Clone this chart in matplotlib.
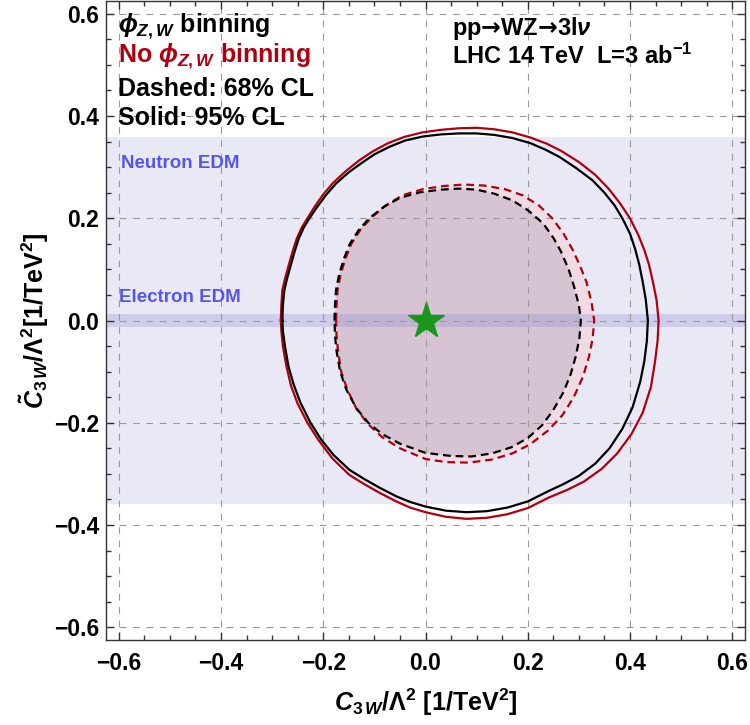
import numpy as np
import matplotlib.pyplot as plt
from matplotlib.ticker import MultipleLocator

plt.rcParams['font.family'] = ['Liberation Sans', 'DejaVu Sans']
plt.rcParams['font.weight'] = 'bold'
plt.rcParams['axes.labelweight'] = 'bold'
plt.rcParams['mathtext.fontset'] = 'custom'
plt.rcParams['mathtext.rm'] = 'Liberation Sans:bold'
plt.rcParams['mathtext.bf'] = 'Liberation Sans:bold'
plt.rcParams['mathtext.it'] = 'Liberation Sans:italic:bold'
plt.rcParams['mathtext.sf'] = 'DejaVu Sans:bold'

# 95% CL contours (solid)
solid_bin_x = [-0.280, -0.279, -0.276, -0.270, -0.263, -0.256, -0.248, -0.238, -0.227, -0.212,
               -0.195, -0.175, -0.150, -0.125, -0.100, -0.070, -0.040, -0.005, 0.030, 0.065,
               0.100, 0.135, 0.170, 0.205, 0.235, 0.262, 0.295, 0.327, 0.350, 0.370,
               0.385, 0.400, 0.410, 0.418, 0.425, 0.431, 0.435, 0.433, 0.428, 0.420,
               0.405, 0.385, 0.360, 0.332, 0.300, 0.270, 0.242, 0.200, 0.160, 0.120,
               0.080, 0.040, 0.000, -0.030, -0.057, -0.090, -0.120, -0.149, -0.180, -0.204,
               -0.225, -0.245, -0.258, -0.268, -0.275, -0.279]
solid_bin_y = [0.000, 0.030, 0.060, 0.085, 0.110, 0.135, 0.160, 0.182, 0.200, 0.222,
               0.245, 0.268, 0.290, 0.308, 0.325, 0.340, 0.352, 0.360, 0.364, 0.366,
               0.366, 0.363, 0.357, 0.347, 0.334, 0.320, 0.298, 0.274, 0.250, 0.225,
               0.200, 0.170, 0.140, 0.110, 0.075, 0.040, 0.000, -0.040, -0.080, -0.120,
               -0.170, -0.212, -0.250, -0.280, -0.304, -0.320, -0.333, -0.354, -0.366, -0.373,
               -0.375, -0.372, -0.364, -0.355, -0.344, -0.327, -0.310, -0.292, -0.263, -0.233,
               -0.200, -0.160, -0.125, -0.090, -0.050, -0.020]
solid_nobin_x = [-0.283, -0.282, -0.280, -0.274, -0.267, -0.260, -0.252, -0.242, -0.231, -0.216,
                 -0.199, -0.180, -0.155, -0.130, -0.103, -0.073, -0.042, -0.006, 0.030, 0.065,
                 0.100, 0.135, 0.170, 0.205, 0.237, 0.265, 0.300, 0.332, 0.358, 0.380,
                 0.400, 0.416, 0.428, 0.437, 0.445, 0.452, 0.456, 0.454, 0.449, 0.441,
                 0.425, 0.403, 0.375, 0.345, 0.310, 0.278, 0.242, 0.200, 0.160, 0.120,
                 0.080, 0.040, 0.000, -0.030, -0.057, -0.090, -0.120, -0.149, -0.182, -0.210,
                 -0.231, -0.250, -0.263, -0.272, -0.279, -0.282]
solid_nobin_y = [0.000, 0.030, 0.060, 0.085, 0.110, 0.135, 0.160, 0.182, 0.200, 0.224,
                 0.248, 0.270, 0.293, 0.313, 0.331, 0.347, 0.359, 0.368, 0.373, 0.376,
                 0.377, 0.374, 0.368, 0.358, 0.346, 0.332, 0.310, 0.285, 0.258, 0.230,
                 0.200, 0.168, 0.138, 0.110, 0.075, 0.040, 0.000, -0.040, -0.080, -0.130,
                 -0.180, -0.222, -0.260, -0.290, -0.315, -0.331, -0.346, -0.367, -0.379, -0.386,
                 -0.388, -0.384, -0.375, -0.366, -0.354, -0.337, -0.320, -0.302, -0.270, -0.233,
                 -0.200, -0.163, -0.128, -0.090, -0.050, -0.020]

# 68% CL contours (dashed)
dash_bin_x = [-0.178, -0.177, -0.175, -0.169, -0.160, -0.148, -0.130, -0.110, -0.082, -0.050,
              -0.010, 0.030, 0.065, 0.100, 0.135, 0.170, 0.200, 0.230, 0.250, 0.265,
              0.280, 0.291, 0.300, 0.304, 0.301, 0.294, 0.284, 0.270, 0.250, 0.228,
              0.200, 0.168, 0.130, 0.090, 0.050, 0.000, -0.050, -0.085, -0.112, -0.135,
              -0.155, -0.167, -0.174, -0.177]
dash_bin_y = [0.000, 0.030, 0.060, 0.090, 0.120, 0.150, 0.178, 0.200, 0.222, 0.240,
              0.251, 0.256, 0.258, 0.256, 0.248, 0.235, 0.216, 0.190, 0.162, 0.135,
              0.100, 0.065, 0.030, 0.000, -0.035, -0.070, -0.105, -0.140, -0.175, -0.205,
              -0.230, -0.248, -0.260, -0.266, -0.265, -0.259, -0.241, -0.222, -0.200, -0.172,
              -0.135, -0.100, -0.060, -0.030]
dash_nobin_x = [-0.175, -0.174, -0.172, -0.166, -0.157, -0.145, -0.127, -0.105, -0.078, -0.045,
                -0.005, 0.035, 0.075, 0.115, 0.155, 0.190, 0.222, 0.248, 0.270, 0.287,
                0.301, 0.315, 0.325, 0.330, 0.327, 0.320, 0.308, 0.290, 0.268, 0.240,
                0.205, 0.170, 0.130, 0.085, 0.040, 0.000, -0.050, -0.085, -0.112, -0.135,
                -0.153, -0.165, -0.171, -0.174]
dash_nobin_y = [0.000, 0.030, 0.060, 0.090, 0.120, 0.150, 0.178, 0.202, 0.225, 0.245,
                0.257, 0.263, 0.266, 0.264, 0.257, 0.245, 0.225, 0.200, 0.170, 0.140,
                0.110, 0.075, 0.035, 0.000, -0.035, -0.070, -0.110, -0.150, -0.185, -0.215,
                -0.242, -0.260, -0.272, -0.278, -0.277, -0.271, -0.250, -0.228, -0.203, -0.173,
                -0.135, -0.100, -0.060, -0.030]

# EDM bands
neutron_edm = [-0.358, 0.358]
electron_edm = [-0.013, 0.013]

# SM point
sm_x, sm_y = 0.0, 0.0


def closed(a):
    return np.append(a, a[0])


red = '#b00010'
fig = plt.figure(figsize=(7.5, 7.25), dpi=100)
ax = fig.add_axes([106 / 750, 85 / 725, 639 / 750, 639 / 725])

ax.axhspan(neutron_edm[0], neutron_edm[1], color='#e9e9f6', lw=0, zorder=0)

ax.fill(dash_nobin_x, dash_nobin_y, color='#ffbec3', alpha=0.32, lw=0, zorder=1)
ax.fill(dash_bin_x, dash_bin_y, color='#9d8faa', alpha=0.3, lw=0, zorder=1.1)

ax.axhspan(electron_edm[0], electron_edm[1], color='#8080d0', alpha=0.25, lw=0, zorder=2)

ax.plot(closed(solid_nobin_x), closed(solid_nobin_y), color=red, lw=1.6, zorder=3)
ax.plot(closed(solid_bin_x), closed(solid_bin_y), color='black', lw=1.6, zorder=3.1)
ax.plot(closed(dash_nobin_x), closed(dash_nobin_y), color=red, lw=1.6, ls=(0, (3.5, 2.2)), zorder=3)
ax.plot(closed(dash_bin_x), closed(dash_bin_y), color='black', lw=1.6, ls=(0, (3.5, 2.2)), zorder=3.1)

ax.plot([sm_x], [sm_y], marker='*', ms=27, color='#1a961a', mec='#1a961a', zorder=4)

ax.set_xlim(-0.625, 0.625)
ax.set_ylim(-0.625, 0.625)
ax.xaxis.set_major_locator(MultipleLocator(0.2))
ax.yaxis.set_major_locator(MultipleLocator(0.2))
ax.xaxis.set_minor_locator(MultipleLocator(0.05))
ax.yaxis.set_minor_locator(MultipleLocator(0.05))
ax.set_axisbelow(False)
ax.grid(True, which='major', color='#999999', lw=0.8, ls=(0, (6, 6)))
ax.tick_params(which='both', direction='in', top=True, right=True, color='#333333', width=1)
ax.tick_params(which='major', length=6, labelsize=16.5)
ax.tick_params(which='minor', length=3.5)
ax.tick_params(axis='x', pad=9)
ax.tick_params(axis='y', pad=5)
for s in ax.spines.values():
    s.set_color('#333333')
    s.set_linewidth(1)

ax.set_xlabel(r'$C_{3\,W}/\Lambda^2$ [1/TeV$^2$]', fontsize=18, labelpad=8)
ax.set_ylabel(r'$\tilde{C}_{3\,W}/\Lambda^2$[1/TeV$^2$]', fontsize=18, labelpad=2)


def px(x, y):
    return (x - 106) / 639, (640 - y) / 639


ax.text(*px(118, 32), r'$\phi_{Z,W}$ binning', fontsize=18, color='black',
        transform=ax.transAxes, va='baseline', zorder=5)
ax.text(*px(118, 62), r'No $\phi_{Z,W}$ binning', fontsize=18, color=red,
        transform=ax.transAxes, va='baseline', zorder=5)
ax.text(*px(118, 96), 'Dashed: 68% CL', fontsize=18, color='black',
        transform=ax.transAxes, va='baseline', zorder=5)
ax.text(*px(118, 125), 'Solid: 95% CL', fontsize=18, color='black',
        transform=ax.transAxes, va='baseline', zorder=5)

ax.text(*px(452, 35), r'pp$\mathsf{→}$WZ$\mathsf{→}$3l$\nu$', fontsize=17, color='black',
        transform=ax.transAxes, va='baseline', zorder=5)
ax.text(*px(452, 64), r'LHC 14 TeV  L=3 ab$^{-1}$', fontsize=17, color='black',
        transform=ax.transAxes, va='baseline', zorder=5)

ax.text(*px(121, 168), 'Neutron EDM', fontsize=13.5, color='#5555ee',
        transform=ax.transAxes, va='baseline', zorder=5)
ax.text(*px(119, 302), 'Electron EDM', fontsize=13.5, color='#5555ee',
        transform=ax.transAxes, va='baseline', zorder=5)

fig.savefig('out.png', dpi=100)
